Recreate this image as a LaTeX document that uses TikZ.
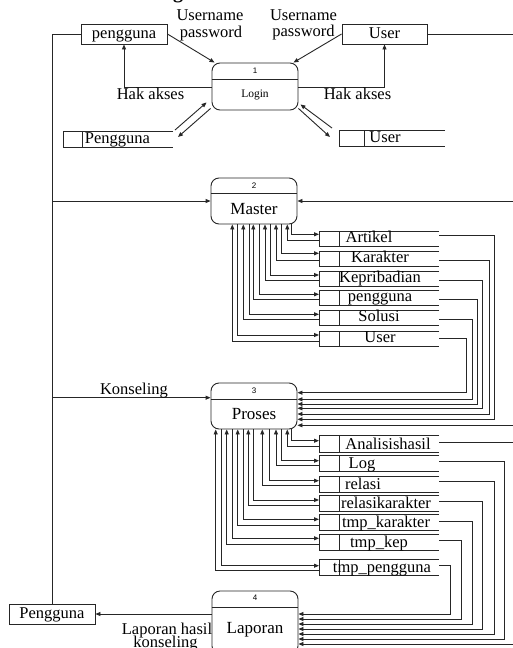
\documentclass[tikz,border=0pt]{standalone}
\usepackage{fontspec}
\setmainfont{Liberation Serif}
\newfontfamily\numfont{Liberation Sans}
\usetikzlibrary{arrows.meta,calc}
\begin{document}
\begin{tikzpicture}[x=1pt,y=-1pt,
  ln/.style={draw=black!85,line width=0.9pt},
  arr/.style={-{Triangle[length=5pt,width=4pt]}},
  lbl/.style={inner sep=0pt,font=\fontsize{16.5}{17}\selectfont,text height=11.5pt,text depth=3.5pt},
  ent/.style={ln,inner sep=0pt,minimum height=20pt,font=\fontsize{16.5}{17}\selectfont,text height=11.5pt,text depth=3.5pt},
  proc/.style={ln,rounded corners=8pt,minimum width=86pt,inner sep=0pt},
  ds/.style={inner sep=0pt,outer sep=0pt,minimum width=120pt,minimum height=16pt},
  num/.style={inner sep=0pt,font=\numfont\fontsize{8}{9}\selectfont},
  ptext/.style={inner sep=0pt,font=\fontsize{17}{18}\selectfont,text height=11.5pt,text depth=3.5pt},
]
\clip (0,0) rectangle (513,648);
\fill[white] (0,0) rectangle (513,648);

% heading (only its lower edge falls inside the page)
\node[inner sep=0pt,anchor=base,font=\bfseries\fontsize{20}{20}\selectfont] (ttl) at (178,-1.5) {g};

% ---------- processes ----------
\node[proc,minimum height=47pt] (login) at (255,86.5) {};
\draw[ln] (login.west |- 0,79) -- (login.east |- 0,79);
\node[num] (n1) at (255,71) {1};
\node[inner sep=0pt,font=\fontsize{11.5}{12}\selectfont,text height=8pt,text depth=2.5pt] (login-t) at (255,95) {Login};

\node[proc,minimum height=46pt] (master) at (254,201) {};
\draw[ln] (master.west |- 0,193) -- (master.east |- 0,193);
\node[num] (n2) at (254,186) {2};
\node[ptext] (master-t) at (254,210.3) {Master};

\node[proc,minimum height=46pt] (proses) at (254,406) {};
\draw[ln] (proses.west |- 0,399) -- (proses.east |- 0,399);
\node[num] (n3) at (254,391) {3};
\node[ptext] (proses-t) at (254,415) {Proses};

\node[proc,minimum height=63pt] (laporan) at (255,622.5) {};
\draw[ln] (laporan.west |- 0,607) -- (laporan.east |- 0,607);
\node[num] (n4) at (255,598) {4};
\node[ptext] (laporan-t) at (255,629.3) {Laporan};

% ---------- external entities ----------
\node[ent,minimum width=86pt] (pgg) at (124,34) {pengguna};
\node[ent,minimum width=85pt] (usr) at (384.5,34) {User};
\node[ent,minimum width=86pt] (pb) at (52,614) {Pengguna};

% right border coordinates
\coordinate (rU) at (513,34);
\coordinate (rM) at (513,201);
\coordinate (rP) at (513,425.3);
\coordinate (rA) at (513,442.7);
\coordinate (rL) at (513,644);

% ---------- login ----------
\draw[ln,arr] (pgg.east) -- ([xshift=3pt]login.north west);
\draw[ln,arr] (usr.west) -- ([xshift=-5pt]login.north east);
\draw[ln,arr] (login.west |- 0,87) -| (pgg.south);
\draw[ln,arr] (login.east |- 0,87) -| (usr.south);
\node[lbl,anchor=base] (u1a) at (210,20.7) {Username};
\node[lbl,anchor=base] (u1b) at (211,37.3) {password};
\node[lbl,anchor=base] (u2a) at (303.5,20) {Username};
\node[lbl,anchor=base] (u2b) at (303.5,36.7) {password};
\node[lbl,anchor=base] (hk1) at (150.5,99.3) {Hak akses};
\node[lbl,anchor=base] (hk2) at (357.5,99.3) {Hak akses};

% login data stores
\node[inner sep=0pt,outer sep=0pt,minimum width=110pt,minimum height=16pt] (sPg) at (118,139) {};
\draw[ln] (sPg.north east) -- (sPg.north west) -- (sPg.south west) -- (sPg.south east);
\draw[ln] ([xshift=19pt]sPg.north west) -- ([xshift=19pt]sPg.south west);
\node[lbl] (sPg-t) at (117.5,139.5) {Pengguna};

\node[inner sep=0pt,outer sep=0pt,minimum width=106pt,minimum height=16pt] (sUs) at (392,138) {};
\draw[ln] (sUs.north east) -- (sUs.north west) -- (sUs.south west) -- (sUs.south east);
\draw[ln] ([xshift=25pt]sUs.north west) -- ([xshift=25pt]sUs.south west);
\node[lbl] (sUs-t) at (385,138.5) {User};

\draw[ln,arr] ($(sPg.north east)+(2,-1)$) -- ($(login.south west)+(-5,-8)$);
\draw[ln,arr] ($(login.south west)+(-1,-2)$) -- ($(sPg.north east)+(5,6)$);
\draw[ln,arr] ($(sUs.north west)+(-7,-2)$) -- ($(login.south east)+(2,-6)$);
\draw[ln,arr] ($(login.south east)+(0,-2)$) -- ($(sUs.north west)+(-9,7)$);

% ---------- left trunk ----------
\draw[ln] (pgg.west) -| (pb.north);
\draw[ln,arr] (pb.north |- master.west) -- (master.west);
\draw[ln,arr] (pb.north |- 0,397.7) -- (proses.west |- 0,397.7);
\node[lbl,anchor=base] (kons) at (134,394.3) {Konseling};

% ---------- right border flows ----------
\draw[ln] (usr.east) -- (rU);
\draw[ln,arr] (rM) -- (master.east);
\draw[ln,arr] (rP) -- (proses.east |- rP);
\draw[ln,arr] (rL) -- (laporan.east |- rL);

% ---------- master data stores ----------
\foreach \n/\t/\cy/\lx/\dx/\iy/\ry/\ux/\oy/\vx/\ey in {
  mArt/Artikel/238.5/369/291.7/234.3/240/287.3/235/494.7/419.3,
  mKar/Karakter/258.5/380/281/253.3/260/276/260/489/414,
  mKep/Kepribadian/278.5/380/270/275/280/265/280/482.7/408.3,
  mPen/pengguna/297.5/380/259.3/294.3/299.3/253.3/299.3/477.3/404,
  mSol/Solusi/317.5/379/249/314.3/319/243.3/319/472.3/399.3,
  mUsr/User/338.5/380/237.7/335/341/232.3/338.3/466.7/392.7}
{
  \node[ds,minimum height=15pt] (\n) at (379,\cy) {};
  \draw[ln] (\n.north east) -- (\n.north west) -- (\n.south west) -- (\n.south east);
  \draw[ln] ([xshift=20pt]\n.north west) -- ([xshift=20pt]\n.south west);
  \node[lbl] (\n-t) at (\lx,\cy) {\t};
  \draw[ln,arr] (\dx,0 |- master.south) |- (\n.west |- 0,\iy);
  \draw[ln,arr] (\n.west |- 0,\ry) -| (\ux,0 |- master.south);
  \draw[ln,arr] (\n.east |- 0,\oy) -| (\vx,\ey) -- (proses.east |- 0,\ey);
}

% ---------- proses data stores ----------
\node[ds,minimum height=17pt] (pAna) at (379,443.5) {};
\draw[ln] (pAna.north east) -- (pAna.north west) -- (pAna.south west) -- (pAna.south east);
\draw[ln] ([xshift=20pt]pAna.north west) -- ([xshift=20pt]pAna.south west);
\node[lbl] (pAna-t) at (388,445) {Analisishasil};
\draw[ln,arr] (291.7,0 |- proses.south) |- (pAna.west |- 0,440.7);
\draw[ln,arr] (pAna.west |- 0,446) -| (287.3,0 |- proses.south);
\draw[ln] (pAna.east |- rA) -- (rA);

\foreach \n/\t/\cy/\lx/\dx/\iy/\ry/\ux/\oy/\vx/\ey in {
  pLog/Log/463/362/281/460.7/465/276/461.7/504.3/639,
  pRel/relasi/484/363/269.3/480.7/485/262.3/481/494.3/634,
  pRk/relasikarakter/503.5/386/253.3/500/505/248.3/501/482.5/629,
  pTk/tmp\_karakter/522.5/386/243.3/519.3/525/237.7/521/472/624,
  pTkp/tmp\_kep/542/379/232.3/538.3/544/226.7/540.7/461.3/619,
  pTp/tmp\_pengguna/567.5/382/221.7/565.7/570.7/215.7/565.7/450.7/614}
{
  \node[ds] (\n) at (379,\cy) {};
  \draw[ln] (\n.north east) -- (\n.north west) -- (\n.south west) -- (\n.south east);
  \draw[ln] ([xshift=20pt]\n.north west) -- ([xshift=20pt]\n.south west);
  \node[lbl] (\n-t) at (\lx,\cy+1) {\t};
  \draw[ln,arr] (\dx,0 |- proses.south) |- (\n.west |- 0,\iy);
  \draw[ln,arr] (\n.west |- 0,\ry) -| (\ux,0 |- proses.south);
  \draw[ln,arr] (\n.east |- 0,\oy) -| (\vx,\ey) -- (laporan.east |- 0,\ey);
}

% ---------- report ----------
\draw[ln,arr] (laporan.west |- pb.east) -- (pb.east);
\node[lbl,anchor=base] (lh1) at (167,634) {Laporan hasil};
\node[lbl,anchor=base] (lh2) at (165.5,647.5) {konseling};
\end{tikzpicture}
\end{document}
